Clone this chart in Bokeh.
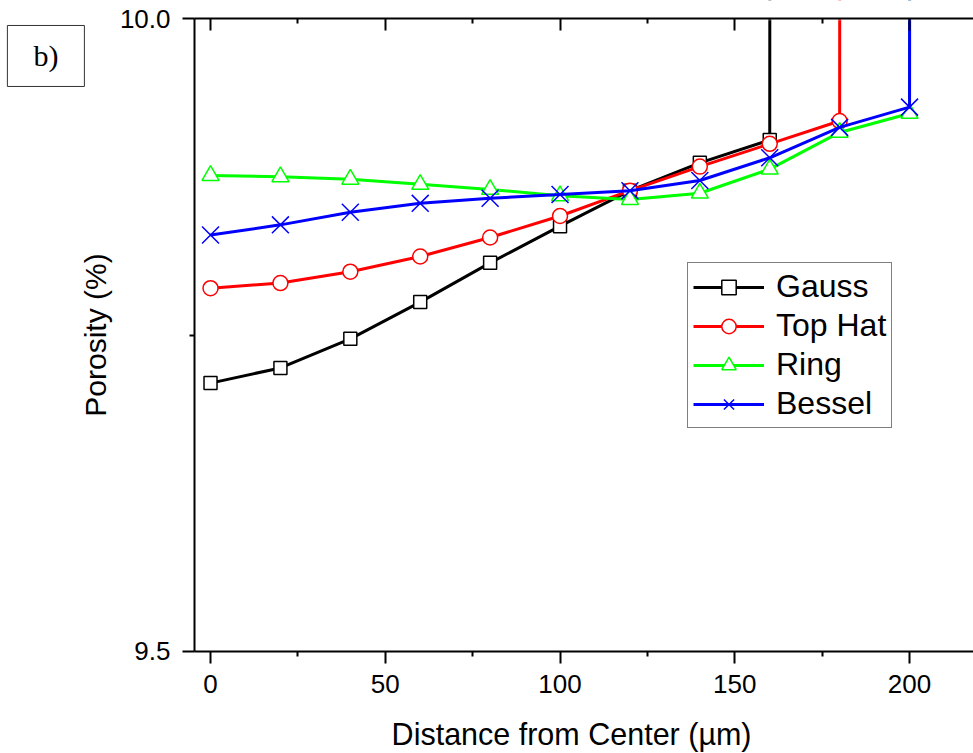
from bokeh.plotting import figure
from bokeh.models import (Range1d, LinearAxis, FixedTicker, PrintfTickFormatter,
                          Legend, LegendItem, Label, CustomJSTickFormatter,
                          BoxAnnotation)
from bokeh.embed import file_html
from bokeh.resources import INLINE

# ---- data ----
distance = [0, 20, 40, 60, 80, 100, 120, 140, 160, 180, 200, 220]
gauss = [9.712, 9.724, 9.747, 9.776, 9.807, 9.836, 9.864, 9.886, 9.904, 100.0]
top_hat = [9.787, 9.791, 9.800, 9.812, 9.827, 9.844, 9.864, 9.883, 9.901, 9.919, 100.0]
ring = [9.876, 9.875, 9.873, 9.869, 9.865, 9.860, 9.857, 9.862, 9.881, 9.910, 9.925, 100.0]
bessel = [9.829, 9.837, 9.847, 9.854, 9.858, 9.861, 9.864, 9.872, 9.890, 9.914, 9.930, 100.0]
series_names = ["Gauss", "Top Hat", "Ring", "Bessel"]
x_major_ticks = [0, 50, 100, 150, 200]
x_minor_ticks = [25, 75, 125, 175]
y_major_ticks = [9.5, 10.0]
y_minor_ticks = [9.75]
x_axis_bounds = (-4.58, 218.3)
y_axis_bounds = (9.5, 10.0)

FONT = "Liberation Sans"

# frame spans the whole canvas; axes sit at fixed locations inside it
p = figure(width=973, height=753, output_backend="svg", toolbar_location=None,
           x_range=Range1d(-60.09, 218.3), y_range=Range1d(9.41943, 10.01422),
           min_border_left=0, min_border_right=0, min_border_top=0,
           min_border_bottom=0, x_axis_location=None, y_axis_location=None)
p.grid.visible = False
p.outline_line_color = None
p.background_fill_color = "white"
p.border_fill_color = "white"

def style_axis(ax):
    ax.axis_line_width = 2
    ax.axis_line_color = "black"
    ax.major_tick_line_width = 2
    ax.minor_tick_line_width = 2
    ax.major_tick_line_color = "black"
    ax.minor_tick_line_color = "black"
    ax.major_label_text_font = FONT
    ax.major_label_text_font_size = "26px"
    ax.major_label_text_color = "black"
    ax.axis_label_text_font = FONT
    ax.axis_label_text_font_size = "30px"
    ax.axis_label_text_font_style = "normal"
    ax.axis_label_text_color = "black"

xa = LinearAxis(fixed_location=y_axis_bounds[0], bounds=x_axis_bounds)
style_axis(xa)
xa.ticker = FixedTicker(ticks=x_major_ticks, minor_ticks=x_minor_ticks)
xa.major_tick_out = 12
xa.major_tick_in = 0
xa.minor_tick_out = 5
xa.minor_tick_in = 0
xa.major_label_standoff = 12
p.add_layout(xa, "below")

ya = LinearAxis(fixed_location=x_axis_bounds[0], bounds=y_axis_bounds,
                axis_label="Porosity (%)")
style_axis(ya)
ya.ticker = FixedTicker(ticks=y_major_ticks, minor_ticks=y_minor_ticks)
ya.formatter = PrintfTickFormatter(format="%.1f")
ya.major_tick_out = 12
ya.major_tick_in = 0
ya.minor_tick_out = 5
ya.minor_tick_in = 0
ya.major_label_standoff = 12
ya.axis_label_standoff = 5
p.add_layout(ya, "left")

top = LinearAxis(fixed_location=y_axis_bounds[1], bounds=x_axis_bounds)
style_axis(top)
top.ticker = FixedTicker(ticks=x_major_ticks, minor_ticks=x_minor_ticks)
top.formatter = CustomJSTickFormatter(code="return ''")
top.major_tick_out = 0
top.major_tick_in = 12
top.minor_tick_out = 0
top.minor_tick_in = 5
top.major_label_standoff = 0
p.add_layout(top, "above")

specs = [
    (gauss, "#000000", "square", 13),
    (top_hat, "#ff0000", "circle", 15),
    (ring, "#00ff00", "triangle", 17),
    (bessel, "#0000ff", "x", 24),
]
items = []
for name, (vals, color, marker, size) in zip(series_names, specs):
    xs = distance[:len(vals)]
    lr = p.line(xs, vals, line_color=color, line_width=3)
    sr = p.scatter(xs, vals, marker=marker, size=size, line_color=color,
                   line_width=1.5, fill_color="white")
    items.append(LegendItem(label=name, renderers=[lr, sr]))

# blank out everything above the top axis (data clipped at the axis, like the original)
mask = BoxAnnotation(bottom=y_axis_bounds[1], top=10.5, left=-100, right=300,
                     fill_color="white", fill_alpha=1.0,
                     line_color="white", line_width=4, level="glyph")
p.add_layout(mask)

legend = Legend(items=items, location=(687, 325))
legend.label_text_font = FONT
legend.label_text_font_size = "32px"
legend.label_text_color = "black"
legend.glyph_width = 71
legend.glyph_height = 36
legend.label_height = 36
legend.label_standoff = 12
legend.spacing = 2
legend.padding = 5
legend.margin = 0
legend.border_line_color = "black"
legend.border_line_width = 1
legend.background_fill_color = "white"
legend.background_fill_alpha = 1
p.add_layout(legend, "center")

# x-axis title
xtitle = Label(x=103.3, y=9.4352, text="Distance from Center (\u00b5m)",
               text_font=FONT, text_font_size="30.5px", text_color="black",
               text_align="center", text_baseline="middle")
p.add_layout(xtitle)

# panel tag "b)"
tag = Label(x=-47.1, y=9.9704, text="b)",
            text_font="Liberation Serif", text_font_size="30px", text_color="black",
            text_align="center", text_baseline="middle",
            padding=dict(left=26, right=26, top=14, bottom=14),
            border_line_color="#333333", border_line_width=1,
            background_fill_color="white")
p.add_layout(tag)

open("out.html", "w").write(file_html(p, INLINE))
